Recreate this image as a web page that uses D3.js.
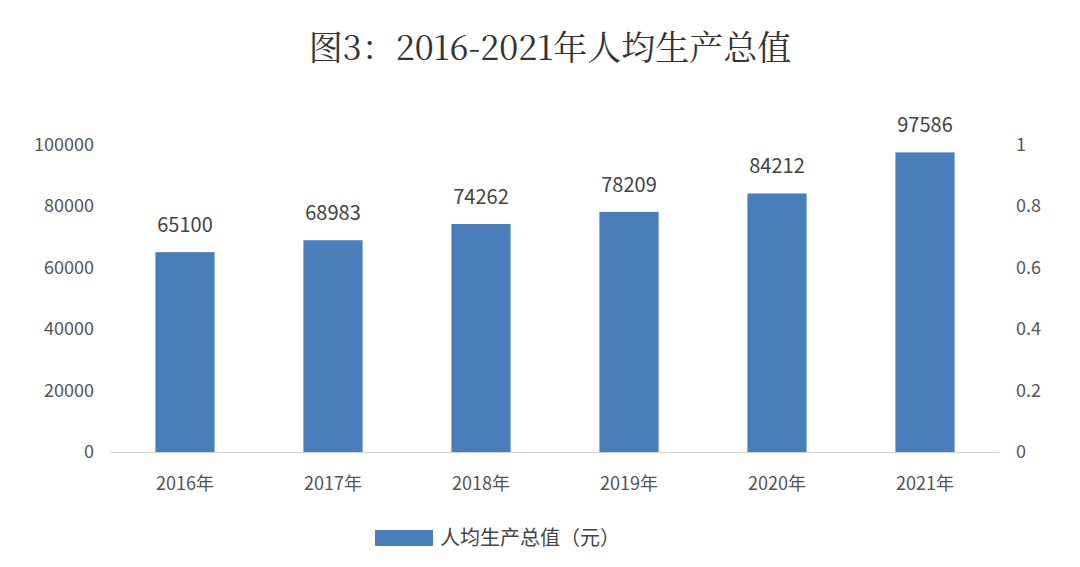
<!DOCTYPE html><html><head><meta charset="utf-8"><script src="https://d3js.org/d3.v7.min.js"></script>
<style>body{margin:0;background:#fff}</style></head><body><svg id="c" width="1080" height="567"></svg>
<script>
const categories=["2016年","2017年","2018年","2019年","2020年","2021年"];
const values=[65100,68983,74262,78209,84212,97586];
const leftTicks=[0,20000,40000,60000,80000,100000];
const rightTicks=[0,0.2,0.4,0.6,0.8,1];
const svg=d3.select("#c");
const font="'Noto Sans CJK SC','Noto Sans',sans-serif";
const x=d3.scaleBand().domain(categories).range([111,999]).paddingInner(0.6).paddingOuter(0.3);
const y=d3.scaleLinear().domain([0,100000]).range([452,145]);
const y2=d3.scaleLinear().domain([0,1]).range([452,145]);
svg.append("text").attr("x",550).attr("y",60).attr("text-anchor","middle").attr("font-family","'Noto Serif CJK SC','Noto Sans CJK SC',serif").attr("font-size",34).attr("fill","#333").text("图3：2016-2021年人均生产总值");
svg.append("line").attr("x1",111).attr("x2",999).attr("y1",452.5).attr("y2",452.5).attr("stroke","#d0d0d0");
svg.selectAll("text.l").data(leftTicks).join("text").attr("x",94).attr("y",d=>y(d)+6).attr("text-anchor","end").attr("font-family",font).attr("font-size",18).attr("fill","#555").text(d=>d);
svg.selectAll("text.r").data(rightTicks).join("text").attr("x",1016).attr("y",d=>y2(d)+6).attr("font-family",font).attr("font-size",18).attr("fill","#555").text(d=>d);
svg.selectAll("rect.b").data(values).join("rect").attr("x",(d,i)=>x(categories[i])).attr("width",x.bandwidth()).attr("y",d=>y(d)).attr("height",d=>452-y(d)).attr("fill","#4a7ebb");
svg.selectAll("text.v").data(values).join("text").attr("x",(d,i)=>x(categories[i])+x.bandwidth()/2).attr("y",d=>y(d)-20).attr("text-anchor","middle").attr("font-family",font).attr("font-size",20).attr("fill","#444").text(d=>d);
svg.selectAll("text.c").data(categories).join("text").attr("x",d=>x(d)+x.bandwidth()/2).attr("y",490).attr("text-anchor","middle").attr("font-family",font).attr("font-size",18).attr("fill","#555").text(d=>d);
svg.append("rect").attr("x",375).attr("y",530).attr("width",58).attr("height",16).attr("fill","#4a7ebb");
svg.append("text").attr("x",440).attr("y",545).attr("font-family",font).attr("font-size",20).attr("fill","#444").text("人均生产总值（元）");
</script></body></html>
